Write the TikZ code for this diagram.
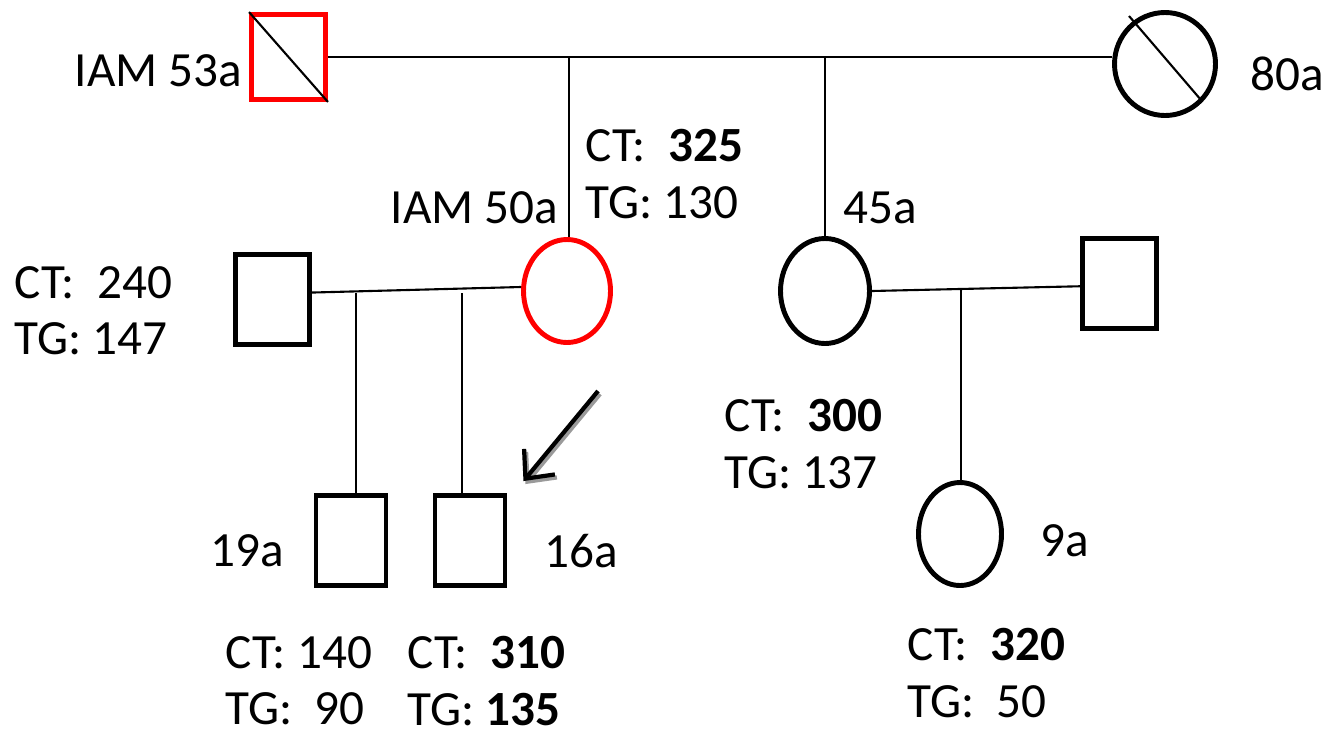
\documentclass[tikz,border=0pt]{standalone}
\usepackage{fontspec}
\setmainfont{Carlito}
\usepackage{tikz}
\usetikzlibrary{arrows.meta,calc,shapes.geometric}
\definecolor{pedink}{HTML}{000000}
\definecolor{pedred}{HTML}{FF0000}
\definecolor{pedshadow}{HTML}{9A9A9A}

\begin{document}
\begin{tikzpicture}[x=0.1mm,y=-0.1mm,line cap=butt,line join=miter,
  font=\fontsize{14}{16}\selectfont,text=pedink,
  male/.style={rectangle,draw=pedink,line width=1.4pt,inner sep=0pt,
    minimum width=7.4mm,minimum height=9mm},
  female/.style={ellipse,draw=pedink,line width=1.4pt,inner sep=0pt},
  link/.style={draw=pedink,line width=0.6pt},
  info/.style={anchor=north west,inner sep=0pt,align=left}]
\path[use as bounding box] (0,0) rectangle (1327,735);
\fill[white] (0,0) rectangle (1327,735);
% generation I
\node[male,draw=pedred,minimum height=8.5mm] (p53) at (288.5,57) {};
\draw[link] (p53.north west) -- (p53.south east);
\node[female,minimum width=10.1mm,minimum height=10.3mm] (g80) at (1165,64) {};
\draw[link] ($(g80.center)+(-36,-48)$) -- ($(g80.center)+(36,36)$);
\draw[link] (p53.east) -- (p53.east -| g80.west);
% generation II
\node[female,draw=pedred,minimum width=8.7mm,minimum height=10.3mm] (m50) at (567,291) {};
\node[male] (s50) at (272.5,299.5) {};
\node[female,minimum width=8.9mm,minimum height=10.5mm] (f45) at (825,291) {};
\node[male] (s45) at (1119.5,283.5) {};
\coordinate (d50) at (569,57);
\coordinate (d45) at (825,57);
\draw[link] (d50) -- (d50 |- m50.north);
\draw[link] (d45) -- (d45 |- f45.north);
\draw[link] (s50.10) -- (m50.175);
\draw[link] (f45.east) -- (s45.184);
% generation III
\node[male,minimum width=7mm] (c19) at (351,540.5) {};
\node[male,minimum width=7mm] (c16) at (470,540.5) {};
\node[female,minimum width=8.3mm,minimum height=10.3mm] (d9) at (960,534) {};
\coordinate (k19) at (356,293);
\coordinate (k16) at (462,293);
\coordinate (k9) at (961,288);
\draw[link] (k19) -- (k19 |- c19.north);
\draw[link] (k16) -- (k16 |- c16.north);
\draw[link] (k9) -- (k9 |- d9.north);
% probando
\coordinate (ptail) at (598,391);
\coordinate (phead) at ($(c16.north east)+(16,-12)$);
\draw[pedshadow,line width=1.2pt,-{Straight Barb[length=2.2mm,width=4mm]}]
  ($(ptail)+(2,3)$) -- ($(phead)+(2,3)$);
\draw[pedink,line width=1.2pt,-{Straight Barb[length=2.2mm,width=4mm]}] (ptail) -- (phead);
% labels
\node[info] (t53) at (74,54) {IAM 53a};
\node[info] (t80) at (1250,56) {80a};
\node[info] (t50) at (390,191) {IAM 50a};
\node[info] (t45) at (843,191) {45a};
\node[info] (v50) at (585,129) {CT:~ \textbf{325}\\TG: 130};
\node[info] (v53s) at (14,266) {CT:~ 240\\TG: 147};
\node[info] (v45) at (724,399) {CT:~ \textbf{300}\\TG: 137};
\node[info] (t19) at (210,534) {19a};
\node[info] (t16) at (544,534) {16a};
\node[info] (t9) at (1040,524) {9a};
\node[info] (v19) at (225,636) {CT: 140\\TG:~ 90};
\node[info] (v16) at (407,636) {CT:~ \textbf{310}\\TG: \textbf{135}};
\node[info] (v9) at (907,628) {CT:~ \textbf{320}\\TG:~ 50};
\end{tikzpicture}
\end{document}
